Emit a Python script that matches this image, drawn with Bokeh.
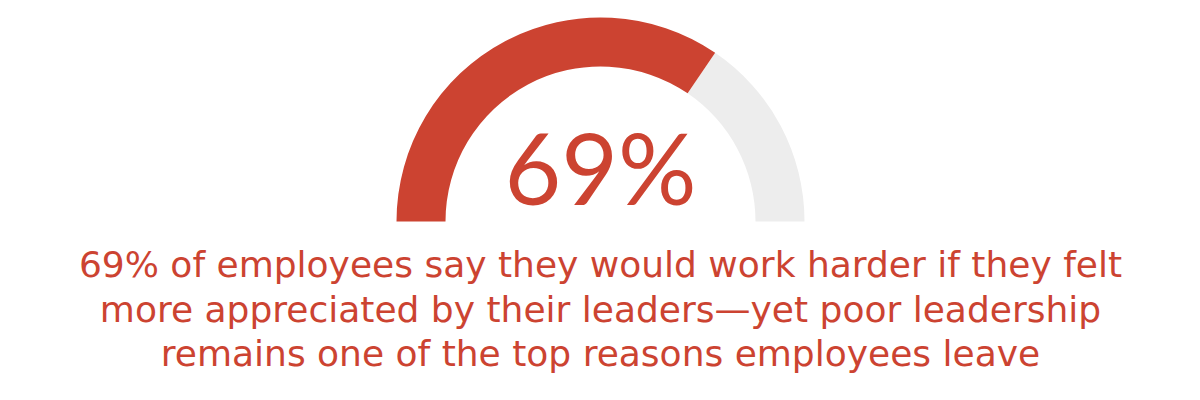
from bokeh.plotting import figure
from bokeh.models import Range1d
from bokeh.core.properties import value
from bokeh.embed import file_html
from bokeh.resources import INLINE
import math

# data
percent = 69
headline = "69%"
caption_lines = [
    "69% of employees say they would work harder if they felt",
    "more appreciated by their leaders\u2014yet poor leadership",
    "remains one of the top reasons employees leave",
]

RED = "#CC4331"
GRAY = "#EDEDED"
W, H = 1184, 384

p = figure(width=W, height=H, output_backend="svg", toolbar_location=None,
           x_range=Range1d(0, W), y_range=Range1d(0, H), min_border=0)
p.axis.visible = False
p.grid.visible = False
p.outline_line_color = None
p.background_fill_color = "white"

cx, cy = 600, 163
split = math.pi * (1 - percent / 100)
p.annular_wedge(x=[cx], y=[cy], inner_radius=155, outer_radius=204,
                inner_radius_units="screen", outer_radius_units="screen",
                start_angle=[0], end_angle=[split], color=GRAY, line_color=None)
p.annular_wedge(x=[cx], y=[cy], inner_radius=155, outer_radius=204,
                inner_radius_units="screen", outer_radius_units="screen",
                start_angle=[split], end_angle=[math.pi], color=RED, line_color=None)

p.text(x=[cx], y=[218], text=[headline], text_align="center", text_baseline="alphabetic",
       text_font=value("Lato"), text_font_size="98px", text_color=RED)

ys = [120, 75, 31]
p.text(x=[cx] * 3, y=ys, text=caption_lines, text_align="center", text_baseline="alphabetic",
       text_font=value("DejaVu Sans"), text_font_size="36px", text_color=RED)

open("out.html", "w").write(file_html(p, INLINE))
